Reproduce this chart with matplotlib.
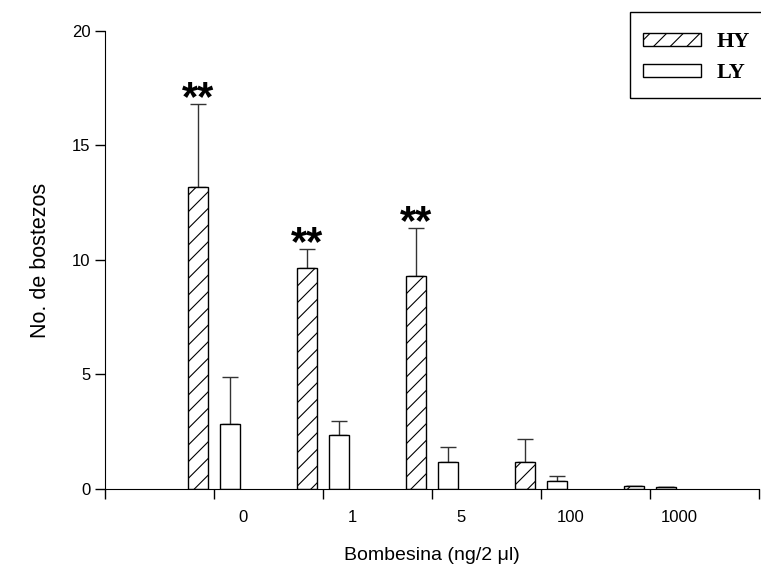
import matplotlib
matplotlib.use("Agg")
import matplotlib.pyplot as plt
from matplotlib.patches import Rectangle
import numpy as np

# ---------------- DATA ----------------
doses = ["0", "1", "5", "100", "1000"]
hy_mean = [13.17, 9.66, 9.3, 1.19, 0.12]
hy_err = [3.65, 0.83, 2.1, 0.98, 0.0]
ly_mean = [2.84, 2.34, 1.19, 0.35, 0.10]
ly_err = [2.06, 0.62, 0.64, 0.22, 0.0]
signif = ["**", "**", "**", "", ""]

plt.rcParams["font.family"] = ["Liberation Sans", "DejaVu Sans"]
plt.rcParams["hatch.linewidth"] = 0.8

W, H = 761, 573
fig = plt.figure(figsize=(W / 100, H / 100), dpi=100)
ax = fig.add_axes([0.138, 0.1466, 0.859, 0.7994])

x = np.arange(len(doses))
w = 0.18
off = 0.147

ax.bar(x - off, hy_mean, w, color="white", edgecolor="black", hatch="//",
       linewidth=1.0, label="HY", zorder=2)
ax.bar(x + off, ly_mean, w, color="white", edgecolor="black",
       linewidth=1.0, label="LY", zorder=2)

# error bars only upward
ax.errorbar(x - off, hy_mean, yerr=[np.zeros(len(x)), hy_err], fmt="none",
            ecolor="#333333", elinewidth=1.0, capsize=6, capthick=1.0, zorder=1)
ax.errorbar(x + off, ly_mean, yerr=[np.zeros(len(x)), ly_err], fmt="none",
            ecolor="#333333", elinewidth=1.0, capsize=6, capthick=1.0, zorder=1)

for xi, m, e, s in zip(x, hy_mean, hy_err, signif):
    if s:
        ax.text(xi - off, m + e - 0.65, s, ha="center", va="bottom",
                fontsize=30, fontweight="bold")

ax.set_xlim(-1, 5)
ax.set_ylim(0, 20)
ax.set_yticks([0, 5, 10, 15, 20])
# ticks between groups, labels shifted right like the original
ax.set_xticks(np.arange(-1, 6))
ax.set_xticklabels([])
ax.set_xticks(x + 0.27, minor=True)
ax.set_xticklabels(doses, minor=True)

ax.tick_params(axis="both", direction="out", length=7, width=1.0, labelsize=12)
ax.tick_params(axis="x", which="minor", length=0, pad=15, labelsize=12)
ax.spines["top"].set_visible(False)
ax.spines["right"].set_visible(False)
ax.spines["left"].set_bounds(0, 20)

ax.set_ylabel("No. de bostezos", fontsize=15.5, labelpad=15)
ax.set_xlabel("Bombesina (ng/2 μl)", fontsize=14, labelpad=16)

# legend (box drawn separately, it runs off the right edge)
fig.legend(loc="upper left", bbox_to_anchor=(630 / W, 1 - 19 / H),
           prop={"family": "Liberation Serif", "weight": "bold", "size": 16},
           frameon=False, handlelength=2.6, handleheight=0.5,
           handletextpad=0.7, borderpad=0.6, labelspacing=0.5,
           borderaxespad=0)
fig.patches.append(Rectangle((630 / W, 1 - 98 / H), 140 / W, 86 / H,
                             transform=fig.transFigure, fill=False,
                             edgecolor="black", linewidth=1.0))

fig.savefig("out.png", dpi=100)
